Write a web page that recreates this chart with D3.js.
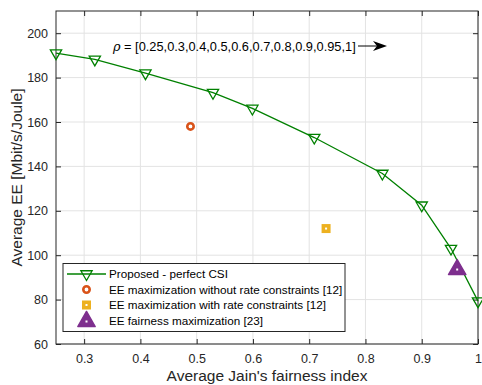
<!DOCTYPE html>
<html>
<head>
<meta charset="utf-8">
<script src="https://cdn.jsdelivr.net/npm/d3@7"></script>
<style>
  body { margin: 0; background: #fff; }
  svg { font-family: "Liberation Sans", Arial, sans-serif; }
</style>
</head>
<body>
<div id="chart"></div>
<script>
// Proposed - perfect CSI curve
const fairness = [0.25, 0.319, 0.409, 0.529, 0.599, 0.709, 0.83, 0.9, 0.952, 1.0];
const eeProposed = [191, 188.2, 182, 173.2, 166.1, 153, 136.8, 122.5, 103, 79.3];

// single-point baselines
const eeNoRate = { x: 0.489, y: 158 };
const eeWithRate = { x: 0.73, y: 112 };
const eeFairness = { x: 0.963, y: 94 };

const xTicks = [0.3, 0.4, 0.5, 0.6, 0.7, 0.8, 0.9, 1];
const yTicks = [60, 80, 100, 120, 140, 160, 180, 200];

const legendLabels = [
  "Proposed - perfect CSI",
  "EE maximization without rate constraints [12]",
  "EE maximization with rate constraints [12]",
  "EE fairness maximization [23]"
];

const W = 482, H = 385;
const margin = { top: 11, right: 4, bottom: 41, left: 56 };
const width = W - margin.left - margin.right,
      height = H - margin.top - margin.bottom;

const green = "#008000", orange = "#D95319", yellow = "#EDB120", purple = "#7E2F8E";

const svg = d3.select("#chart").append("svg")
    .attr("width", W)
    .attr("height", H);

const g = svg.append("g")
    .attr("transform", "translate(" + margin.left + "," + margin.top + ")");

const x = d3.scaleLinear().domain([0.25, 1]).range([0, width]);
const y = d3.scaleLinear().domain([60, 210]).range([height, 0]);

// grid
g.append("g").selectAll("line").data(xTicks).enter().append("line")
    .attr("x1", d => x(d)).attr("x2", d => x(d))
    .attr("y1", 0).attr("y2", height)
    .attr("stroke", "#e3e3e3").attr("stroke-width", 1);
g.append("g").selectAll("line").data(yTicks).enter().append("line")
    .attr("x1", 0).attr("x2", width)
    .attr("y1", d => y(d)).attr("y2", d => y(d))
    .attr("stroke", "#e3e3e3").attr("stroke-width", 1);

// axes (ticks inward, matlab style)
const axisStyle = sel => {
  sel.select(".domain").remove();
  sel.selectAll("line").attr("stroke", "#262626");
  sel.selectAll("text").attr("fill", "#262626").style("font-size", "12.5px");
};
g.append("g").attr("transform", "translate(0," + height + ")")
    .call(d3.axisBottom(x).tickValues(xTicks).tickFormat(d3.format("")).tickSizeInner(-5).tickPadding(10))
    .call(axisStyle);
g.append("g")
    .call(d3.axisTop(x).tickValues(xTicks).tickFormat("").tickSizeInner(-5))
    .call(axisStyle);
g.append("g")
    .call(d3.axisLeft(y).tickValues(yTicks).tickSizeInner(-5).tickPadding(8))
    .call(axisStyle);
g.append("g").attr("transform", "translate(" + width + ",0)")
    .call(d3.axisRight(y).tickValues(yTicks).tickFormat("").tickSizeInner(-5))
    .call(axisStyle);

// frame
g.append("rect")
    .attr("width", width).attr("height", height)
    .attr("fill", "none").attr("stroke", "#262626").attr("stroke-width", 1);

// axis labels
svg.append("text")
    .attr("x", margin.left + width / 2).attr("y", 381)
    .attr("text-anchor", "middle").style("font-size", "15.5px").attr("fill", "#262626")
    .text("Average Jain's fairness index");
svg.append("text")
    .attr("transform", "translate(22," + (margin.top + height / 2) + ") rotate(-90)")
    .attr("text-anchor", "middle").style("font-size", "15.5px").attr("fill", "#262626")
    .text("Average EE [Mbit/s/Joule]");

// markers
const triDown = d3.symbol().type(d3.symbolTriangle).size(55);
function drawTriDown(sel, cx, cy) {
  sel.append("path").attr("d", triDown())
    .attr("transform", "translate(" + cx + "," + cy + ") rotate(180)")
    .attr("fill", "none").attr("stroke", green).attr("stroke-width", 1.3);
}
function drawCircle(sel, cx, cy) {
  sel.append("circle").attr("cx", cx).attr("cy", cy).attr("r", 3.2)
    .attr("fill", "#fff").attr("stroke", orange).attr("stroke-width", 2.6);
}
function drawSquare(sel, cx, cy) {
  sel.append("rect").attr("x", cx - 4.5).attr("y", cy - 4.5).attr("width", 9).attr("height", 9)
    .attr("fill", yellow);
  sel.append("rect").attr("x", cx - 1).attr("y", cy - 1).attr("width", 2).attr("height", 2)
    .attr("fill", "#fff");
}
function drawTriUp(sel, cx, cy) {
  sel.append("path").attr("d", d3.symbol().type(d3.symbolTriangle).size(130)())
    .attr("transform", "translate(" + cx + "," + (cy + 1) + ")")
    .attr("fill", purple).attr("stroke", purple).attr("stroke-width", 1.5).attr("stroke-linejoin", "round");
  sel.append("rect").attr("x", cx - 1).attr("y", cy).attr("width", 2).attr("height", 2)
    .attr("fill", "#fff");
}

// proposed curve
const line = d3.line().x((d, i) => x(fairness[i])).y(d => y(d));
g.append("path").datum(eeProposed)
    .attr("d", line).attr("fill", "none").attr("stroke", green).attr("stroke-width", 1.3);
eeProposed.forEach((v, i) => drawTriDown(g, x(fairness[i]), y(v)));

drawCircle(g, x(eeNoRate.x), y(eeNoRate.y));
drawSquare(g, x(eeWithRate.x), y(eeWithRate.y));
drawTriUp(g, x(eeFairness.x), y(eeFairness.y));

// annotation
const ann = svg.append("text").attr("x", 113).attr("y", 50.5)
    .style("font-size", "12.8px").attr("fill", "#000");
ann.append("tspan").style("font-style", "italic").style("font-family", "DejaVu Serif, serif").text("\u03C1");
ann.append("tspan").text(" = [0.25,0.3,0.4,0.5,0.6,0.7,0.8,0.9,0.95,1]");
svg.append("line").attr("x1", 358).attr("x2", 380).attr("y1", 46).attr("y2", 46)
    .attr("stroke", "#000").attr("stroke-width", 1);
svg.append("path").attr("d", "M387,46 L373,41 L377,46 L373,51 Z").attr("fill", "#000");

// legend
const lg = svg.append("g");
lg.append("rect").attr("x", 63).attr("y", 263.5).attr("width", 282).attr("height", 68)
    .attr("fill", "#fff").attr("stroke", "#262626").attr("stroke-width", 1);
const rowY = [274, 289.5, 305, 320.5];
lg.append("line").attr("x1", 67).attr("x2", 106).attr("y1", rowY[0]).attr("y2", rowY[0])
    .attr("stroke", green).attr("stroke-width", 1.3);
drawTriDown(lg, 86.5, rowY[0]);
drawCircle(lg, 86.5, rowY[1]);
drawSquare(lg, 86.5, rowY[2]);
drawTriUp(lg, 86.5, rowY[3]);
lg.selectAll("text.leg").data(legendLabels).enter().append("text")
    .attr("class", "leg")
    .attr("x", 109).attr("y", (d, i) => rowY[i] + 4)
    .style("font-size", "11.7px").attr("fill", "#000")
    .text(d => d);
</script>
</body>
</html>
